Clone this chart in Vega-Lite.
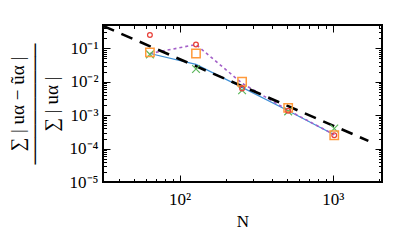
{
  "$schema": "https://vega.github.io/schema/vega-lite/v6.json",
  "width": 279,
  "height": 157,
  "autosize": {"type": "none"},
  "padding": {"left": 103, "top": 25, "right": 25, "bottom": 70},
  "background": "white",
  "config": {
    "view": {"stroke": "black", "strokeWidth": 2},
    "axis": {
      "grid": false,
      "domain": false,
      "tickColor": "black",
      "tickWidth": 1,
      "labelFont": "Liberation Serif",
      "labelFontSize": 17,
      "labelColor": "black",
      "titleFont": "Liberation Serif",
      "titleFontWeight": "normal",
      "titleColor": "black"
    }
  },
  "datasets": {
    "markers": [
      {"N": 64, "series": "circle", "v": 0.25},
      {"N": 128, "series": "circle", "v": 0.13},
      {"N": 256, "series": "circle", "v": 0.0063},
      {"N": 512, "series": "circle", "v": 0.00135},
      {"N": 1024, "series": "circle", "v": 0.00025},
      {"N": 64, "series": "square", "v": 0.076},
      {"N": 128, "series": "square", "v": 0.07},
      {"N": 256, "series": "square", "v": 0.01},
      {"N": 512, "series": "square", "v": 0.00166},
      {"N": 1024, "series": "square", "v": 0.00025},
      {"N": 64, "series": "x", "v": 0.066},
      {"N": 128, "series": "x", "v": 0.024},
      {"N": 256, "series": "x", "v": 0.0056},
      {"N": 512, "series": "x", "v": 0.0013},
      {"N": 1024, "series": "x", "v": 0.0004}
    ],
    "lines": [
      {"N": 64, "series": "blue", "v": 0.07},
      {"N": 128, "series": "blue", "v": 0.033},
      {"N": 256, "series": "blue", "v": 0.0068},
      {"N": 512, "series": "blue", "v": 0.00135},
      {"N": 1024, "series": "blue", "v": 0.00026},
      {"N": 64, "series": "purple", "v": 0.07},
      {"N": 128, "series": "purple", "v": 0.13},
      {"N": 256, "series": "purple", "v": 0.009},
      {"N": 512, "series": "purple", "v": 0.0014},
      {"N": 1024, "series": "purple", "v": 0.00026}
    ],
    "ref": [
      {"N": 31.6, "v": 0.47},
      {"N": 1710, "v": 0.00017}
    ]
  },
  "layer": [
    {
      "data": {"name": "lines"},
      "transform": [{"filter": "datum.series == 'blue'"}],
      "mark": {"type": "line", "color": "#3d8fd6", "strokeWidth": 1.2, "clip": true},
      "encoding": {
        "x": {
          "field": "N", "type": "quantitative",
          "scale": {"type": "log", "domain": [31.6, 2100], "nice": false},
          "axis": {
            "orient": "bottom",
            "title": "N",
            "titleFontSize": 17,
            "titleColor": "black",
            "titlePadding": 6,
            "values": [40, 50, 60, 70, 80, 90, 100, 200, 300, 400, 500, 600, 700, 800, 900, 1000, 2000],
            "labelExpr": "datum.value == 100 ? '10²' : (datum.value == 1000 ? '10³' : '')",
            "labelPadding": 16,
            "tickSize": {"condition": {"test": "datum.value == 100 || datum.value == 1000", "value": -7}, "value": -3.5}
          }
        },
        "y": {
          "field": "v", "type": "quantitative",
          "scale": {"type": "log", "domain": [0.00001, 0.5], "nice": false},
          "axis": {
            "orient": "left",
            "title": ["∑ | uα − ũα |", "─────────", "∑ | uα |"],
            "titleFontSize": 19,
            "titleColor": "black",
            "titleLineHeight": 17,
            "titlePadding": 8,
            "values": [0.00001, 0.00002, 0.00003, 0.00004, 0.00005, 0.00006, 0.00007, 0.00008, 0.00009,
                       0.0001, 0.0002, 0.0003, 0.0004, 0.0005, 0.0006, 0.0007, 0.0008, 0.0009,
                       0.001, 0.002, 0.003, 0.004, 0.005, 0.006, 0.007, 0.008, 0.009,
                       0.01, 0.02, 0.03, 0.04, 0.05, 0.06, 0.07, 0.08, 0.09,
                       0.1, 0.2, 0.3, 0.4],
            "labelExpr": "datum.value == 0.1 ? '10⁻¹' : datum.value == 0.01 ? '10⁻²' : datum.value == 0.001 ? '10⁻³' : datum.value == 0.0001 ? '10⁻⁴' : datum.value == 0.00001 ? '10⁻⁵' : ''",
            "labelPadding": 12,
            "tickSize": {"condition": {"test": "datum.value == 0.1 || datum.value == 0.01 || datum.value == 0.001 || datum.value == 0.0001 || datum.value == 0.00001", "value": -7}, "value": -3.5}
          }
        }
      }
    },
    {
      "data": {"name": "lines"},
      "transform": [{"filter": "datum.series == 'purple'"}],
      "mark": {"type": "line", "color": "#a35fc8", "strokeWidth": 1.6, "strokeDash": [3, 3], "clip": true},
      "encoding": {
        "x": {
          "field": "N", "type": "quantitative",
          "axis": {
            "orient": "top",
            "title": null,
            "labels": false,
            "values": [40, 50, 60, 70, 80, 90, 100, 200, 300, 400, 500, 600, 700, 800, 900, 1000, 2000],
            "tickSize": {"condition": {"test": "datum.value == 100 || datum.value == 1000", "value": -7}, "value": -3.5}
          }
        },
        "y": {
          "field": "v", "type": "quantitative",
          "axis": {
            "orient": "right",
            "title": null,
            "labels": false,
            "values": [0.00001, 0.00002, 0.00003, 0.00004, 0.00005, 0.00006, 0.00007, 0.00008, 0.00009,
                       0.0001, 0.0002, 0.0003, 0.0004, 0.0005, 0.0006, 0.0007, 0.0008, 0.0009,
                       0.001, 0.002, 0.003, 0.004, 0.005, 0.006, 0.007, 0.008, 0.009,
                       0.01, 0.02, 0.03, 0.04, 0.05, 0.06, 0.07, 0.08, 0.09,
                       0.1, 0.2, 0.3, 0.4],
            "tickSize": {"condition": {"test": "datum.value == 0.1 || datum.value == 0.01 || datum.value == 0.001 || datum.value == 0.0001 || datum.value == 0.00001", "value": -7}, "value": -3.5}
          }
        }
      }
    },
    {
      "data": {"name": "ref"},
      "mark": {"type": "line", "color": "black", "strokeWidth": 2.6, "strokeDash": [12, 8], "clip": true},
      "encoding": {
        "x": {"field": "N", "type": "quantitative", "axis": null},
        "y": {"field": "v", "type": "quantitative", "axis": null}
      }
    },
    {
      "data": {"name": "markers"},
      "transform": [{"filter": "datum.series == 'x'"}],
      "mark": {"type": "point", "shape": "M-1,-1L1,1M-1,1L1,-1", "filled": false, "color": "#5cb85c", "size": 60, "strokeWidth": 1.2, "opacity": 1, "clip": true},
      "encoding": {
        "x": {"field": "N", "type": "quantitative", "axis": null},
        "y": {"field": "v", "type": "quantitative", "axis": null}
      }
    },
    {
      "data": {"name": "markers"},
      "transform": [{"filter": "datum.series == 'square'"}],
      "mark": {"type": "point", "shape": "square", "filled": false, "color": "#ff9a3c", "size": 70, "strokeWidth": 1.5, "opacity": 1, "clip": true},
      "encoding": {
        "x": {"field": "N", "type": "quantitative", "axis": null},
        "y": {"field": "v", "type": "quantitative", "axis": null}
      }
    },
    {
      "data": {"name": "markers"},
      "transform": [{"filter": "datum.series == 'circle'"}],
      "mark": {"type": "point", "shape": "circle", "filled": false, "color": "#e8403a", "size": 22, "strokeWidth": 1.3, "opacity": 1, "clip": true},
      "encoding": {
        "x": {"field": "N", "type": "quantitative", "axis": null},
        "y": {"field": "v", "type": "quantitative", "axis": null}
      }
    }
  ],
  "resolve": {"axis": {"x": "independent", "y": "independent"}}
}
